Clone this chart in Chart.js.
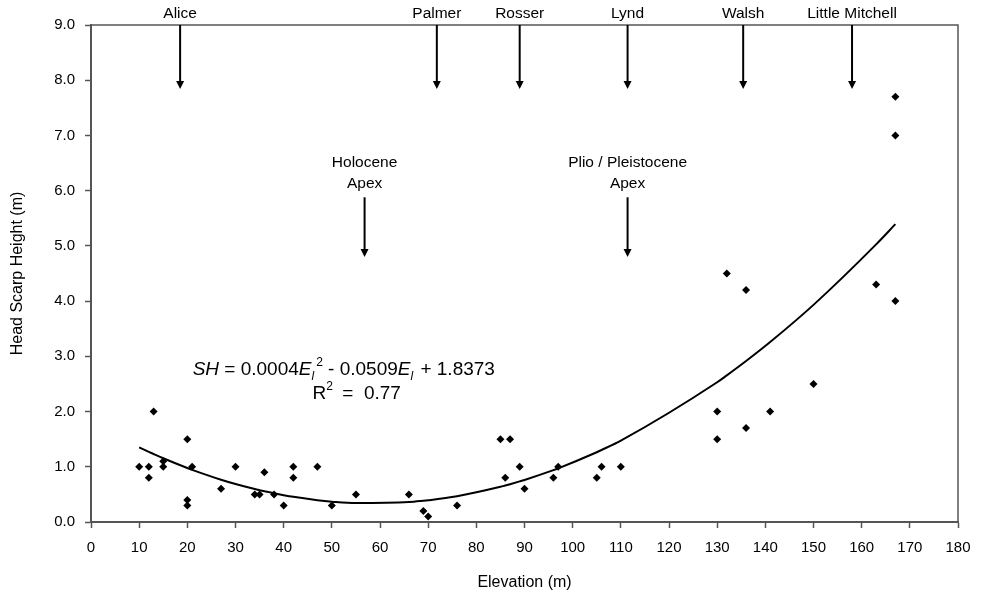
<!DOCTYPE html>
<html>
<head>
<meta charset="utf-8">
<script src="https://cdn.jsdelivr.net/npm/chart.js@4/dist/chart.umd.min.js"></script>
<style>
  html, body { margin: 0; padding: 0; background: #fff; }
</style>
</head>
<body>
<canvas id="scarp-chart" width="994" height="600"></canvas>
<script>
// elevation (m) and head scarp height (m)
const elevation = [10, 12, 12, 13, 15, 15, 20, 20, 20, 21, 27, 30, 34, 35, 36, 38, 40, 42, 42, 47, 50,
  55, 66, 69, 70, 76, 85, 86, 87, 89, 90, 96, 97, 105, 106, 110,
  130, 130, 132, 136, 136, 141, 150, 163, 167, 167, 167];
const scarpHeight = [1.0, 1.0, 0.8, 2.0, 1.0, 1.1, 1.5, 0.4, 0.3, 1.0, 0.6, 1.0, 0.5, 0.5, 0.9, 0.5, 0.3, 1.0, 0.8, 1.0, 0.3,
  0.5, 0.5, 0.2, 0.1, 0.3, 1.5, 0.8, 1.5, 1.0, 0.6, 0.8, 1.0, 0.8, 1.0, 1.0,
  2.0, 1.5, 4.5, 4.2, 1.7, 2.0, 2.5, 4.3, 7.7, 7.0, 4.0];

// river names along the top, and the two apex markers
const riverNames = ['Alice', 'Palmer', 'Rosser', 'Lynd', 'Walsh', 'Little Mitchell'];
const riverElev = [18.5, 71.8, 89, 111.4, 135.4, 158];
const apexNames = [['Holocene', 'Apex'], ['Plio / Pleistocene', 'Apex']];
const apexElev = [56.8, 111.4];

const xTicks = [0, 10, 20, 30, 40, 50, 60, 70, 80, 90, 100, 110, 120, 130, 140, 150, 160, 170, 180];
const yTicks = [0, 1, 2, 3, 4, 5, 6, 7, 8, 9];

// quadratic least squares fit (same as the excel trend line)
function quadFit(xs, ys) {
  let s = [0, 0, 0, 0, 0], t = [0, 0, 0];
  for (let i = 0; i < xs.length; i++) {
    let p = 1;
    for (let k = 0; k < 5; k++) { s[k] += p; if (k < 3) t[k] += p * ys[i]; p *= xs[i]; }
  }
  const m = [[s[0], s[1], s[2], t[0]], [s[1], s[2], s[3], t[1]], [s[2], s[3], s[4], t[2]]];
  for (let c = 0; c < 3; c++) {
    for (let r = c + 1; r < 3; r++) {
      const f = m[r][c] / m[c][c];
      for (let k = c; k < 4; k++) m[r][k] -= f * m[c][k];
    }
  }
  const sol = [0, 0, 0];
  for (let r = 2; r >= 0; r--) {
    let v = m[r][3];
    for (let k = r + 1; k < 3; k++) v -= m[r][k] * sol[k];
    sol[r] = v / m[r][r];
  }
  return sol; // c, b, a
}
const coef = quadFit(elevation, scarpHeight);
const fitX = [...new Set(elevation)].sort((a, b) => a - b);
const trend = fitX.map(x => ({ x: x, y: coef[0] + coef[1] * x + coef[2] * x * x }));

const font = 'Liberation Sans, Arial, sans-serif';

const overlay = {
  id: 'overlay',
  afterDatasetsDraw(chart) {
    const { ctx, chartArea: a, scales: { x, y } } = chart;
    ctx.save();
    // frame top and right
    ctx.strokeStyle = '#555';
    ctx.lineWidth = 1.5;
    ctx.beginPath();
    ctx.moveTo(a.left, a.top); ctx.lineTo(a.right, a.top); ctx.lineTo(a.right, a.bottom);
    ctx.stroke();

    function arrow(px, y0, y1) {
      ctx.strokeStyle = '#000';
      ctx.fillStyle = '#000';
      ctx.lineWidth = 2;
      ctx.beginPath();
      ctx.moveTo(px, y0); ctx.lineTo(px, y1 - 6);
      ctx.stroke();
      ctx.beginPath();
      ctx.moveTo(px - 4, y1 - 8); ctx.lineTo(px + 4, y1 - 8); ctx.lineTo(px, y1);
      ctx.closePath();
      ctx.fill();
    }

    ctx.font = '15.5px ' + font;
    ctx.textAlign = 'center';
    ctx.textBaseline = 'middle';
    riverNames.forEach((n, i) => {
      const px = x.getPixelForValue(riverElev[i]);
      ctx.fillStyle = '#000';
      ctx.fillText(n, px, a.top - 11);
      arrow(px, a.top, y.getPixelForValue(7.84));
    });
    apexNames.forEach((lines, i) => {
      const px = x.getPixelForValue(apexElev[i]);
      ctx.fillStyle = '#000';
      ctx.fillText(lines[0], px, y.getPixelForValue(6.5));
      ctx.fillText(lines[1], px, y.getPixelForValue(6.12));
      arrow(px, y.getPixelForValue(5.88), y.getPixelForValue(4.8));
    });

    // equation
    const parts = [
      ['SH', 'italic 19px', 0], [' = 0.0004', '19px', 0], ['E', 'italic 19px', 0], ['l', 'italic 12px', 5],
      ['2', '12px', -9], [' - 0.0509', '19px', 0], ['E', 'italic 19px', 0], ['l', 'italic 12px', 5],
      [' + 1.8373', '19px', 0]
    ];
    let ex = x.getPixelForValue(21.1);
    const ey = y.getPixelForValue(2.78);
    ctx.textAlign = 'left';
    ctx.textBaseline = 'alphabetic';
    ctx.fillStyle = '#000';
    parts.forEach(([t, f, dy]) => {
      ctx.font = f + ' ' + font;
      ctx.fillText(t, ex, ey + 7 + dy);
      ex += ctx.measureText(t).width + (t === 'l' ? 2 : 0);
    });
    const ry = y.getPixelForValue(2.35);
    let rx = x.getPixelForValue(46.0);
    ctx.font = '19px ' + font;
    ctx.fillText('R', rx, ry + 7);
    rx += ctx.measureText('R').width;
    ctx.font = '12px ' + font;
    ctx.fillText('2', rx, ry - 2);
    rx += ctx.measureText('2').width + 4;
    ctx.font = '19px ' + font;
    ctx.fillText(' =  0.77', rx, ry + 7);
    ctx.restore();
  }
};

new Chart(document.getElementById('scarp-chart'), {
  type: 'scatter',
  data: {
    datasets: [{
      label: 'Head scarp',
      data: elevation.map((e, i) => ({ x: e, y: scarpHeight[i] })),
      pointStyle: 'rectRot',
      pointRadius: 4,
      backgroundColor: '#000',
      borderColor: '#000',
      borderWidth: 0
    },
    {
      label: 'Trend',
      type: 'line',
      data: trend,
      borderColor: '#000',
      borderWidth: 2,
      pointRadius: 0,
      cubicInterpolationMode: 'monotone',
      fill: false
    }]
  },
  options: {
    responsive: false,
    animation: false,
    devicePixelRatio: 1,
    layout: { padding: { left: 0, top: 25, right: 36, bottom: 0 } },
    plugins: { legend: { display: false }, tooltip: { enabled: false } },
    scales: {
      x: {
        type: 'linear',
        min: 0, max: 180,
        afterBuildTicks: s => { s.ticks = xTicks.map(v => ({ value: v })); },
        afterFit: s => { s.height = 78; },
        grid: { drawOnChartArea: false, drawTicks: true, tickLength: 6, color: '#555', tickWidth: 1.5 },
        border: { display: true, color: '#555', width: 2 },
        ticks: { color: '#000', font: { family: font, size: 15 }, padding: 11, maxRotation: 0, autoSkip: false },
        title: { display: true, text: 'Elevation (m)', color: '#000', font: { family: font, size: 16 }, padding: { bottom: 8 } }
      },
      y: {
        min: 0, max: 9,
        afterBuildTicks: s => { s.ticks = yTicks.map(v => ({ value: v })); },
        afterFit: s => { s.width = 91; },
        grid: { drawOnChartArea: false, drawTicks: true, tickLength: 6, color: '#555', tickWidth: 1.5 },
        border: { display: true, color: '#555', width: 2 },
        ticks: { color: '#000', font: { family: font, size: 15 }, padding: 10, callback: v => v.toFixed(1) },
        title: { display: true, text: 'Head Scarp Height (m)', color: '#000', font: { family: font, size: 16 }, padding: { top: 8 } }
      }
    }
  },
  plugins: [overlay]
});
</script>
</body>
</html>
